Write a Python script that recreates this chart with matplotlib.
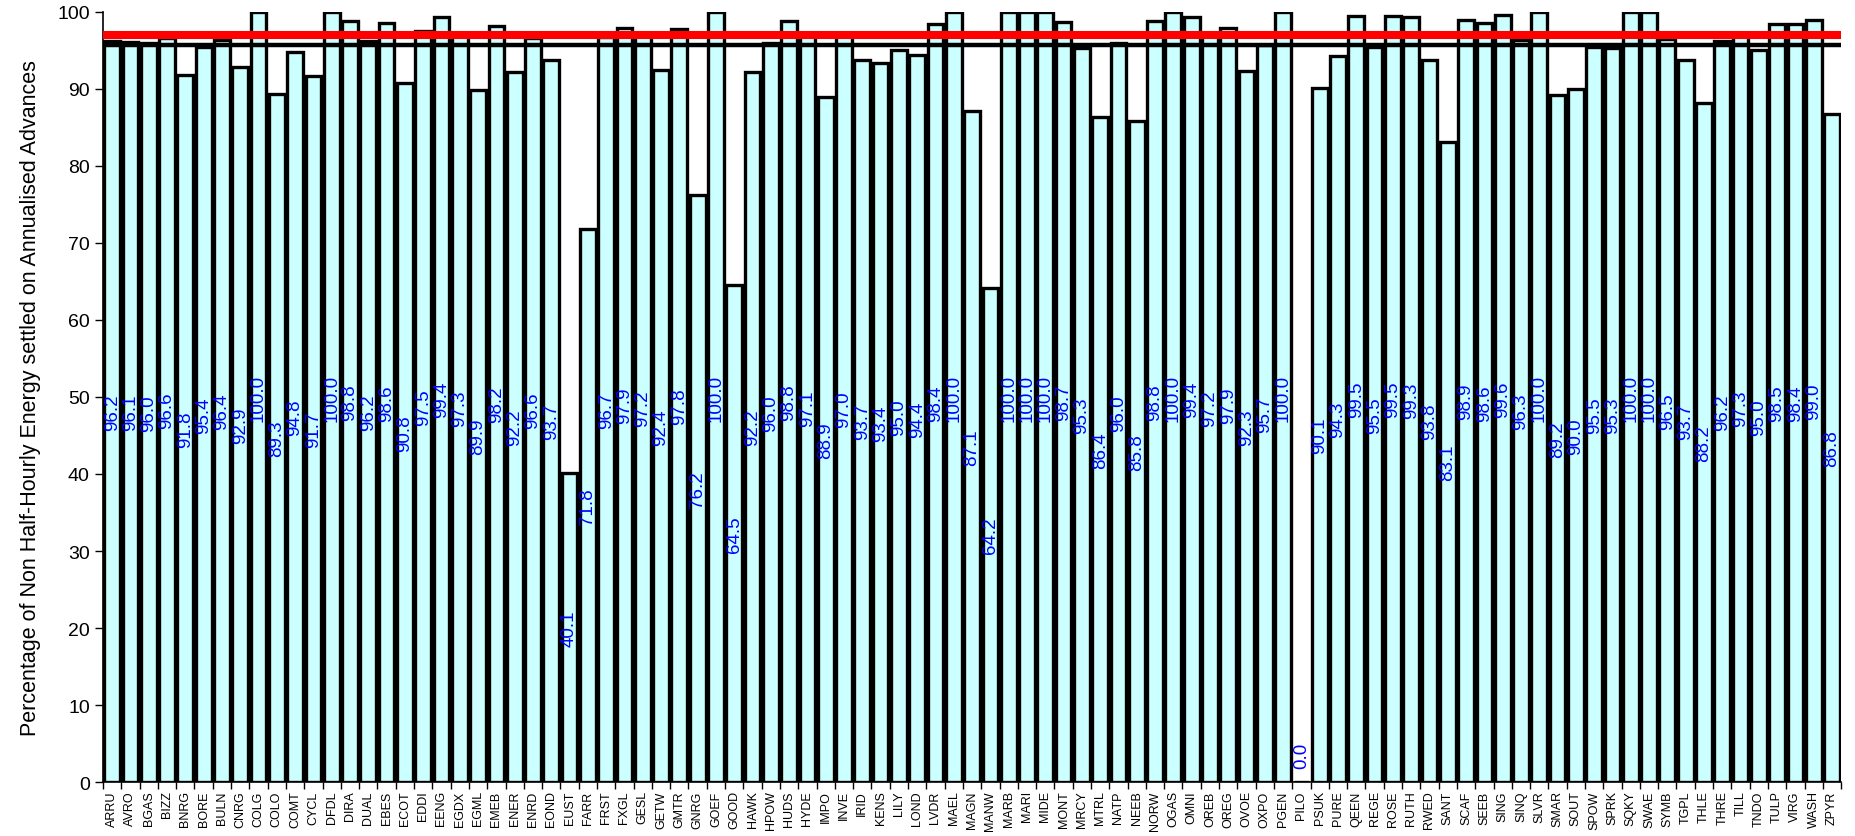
import matplotlib
matplotlib.use("Agg")
import matplotlib.pyplot as plt
import numpy as np

plt.rcParams['font.family'] = ['Liberation Sans', 'DejaVu Sans']

suppliers = ["ARRU","AVRO","BGAS","BIZZ","BNRG","BORE","BULN","CNRG","COLG","COLO",
             "COMT","CYCL","DFDL","DIRA","DUAL","EBES","ECOT","EDDI","EENG","EGDX",
             "EGML","EMEB","ENER","ENRD","EOND","EUST","FARR","FRST","FXGL","GESL",
             "GETW","GMTR","GNRG","GOEF","GOOD","HAWK","HPOW","HUDS","HYDE","IMPO",
             "INVE","IRID","KENS","LILY","LOND","LVDR","MAEL","MAGN","MANW","MARB",
             "MARI","MIDE","MONT","MRCY","MTRL","NATP","NEEB","NORW","OGAS","OMNI",
             "OREB","OREG","OVOE","OXPO","PGEN","PILO","PSUK","PURE","QEEN","REGE",
             "ROSE","RUTH","RWED","SANT","SCAF","SEEB","SING","SINQ","SLVR","SMAR",
             "SOUT","SPOW","SPRK","SQKY","SWAE","SYMB","TGPL","THLE","THRE","TILL",
             "TNDO","TULP","VIRG","WASH","ZPYR"]

percent_aa = [96.2, 96.1, 96.0, 96.6, 91.8, 95.4, 96.4, 92.9, 100.0, 89.3,
              94.8, 91.7, 100.0, 98.8, 96.2, 98.6, 90.8, 97.5, 99.4, 97.3,
              89.9, 98.2, 92.2, 96.6, 93.7, 40.1, 71.8, 96.7, 97.9, 97.2,
              92.4, 97.8, 76.2, 100.0, 64.5, 92.2, 96.0, 98.8, 97.1, 88.9,
              97.0, 93.7, 93.4, 95.0, 94.4, 98.4, 100.0, 87.1, 64.2, 100.0,
              100.0, 100.0, 98.7, 95.3, 86.4, 96.0, 85.8, 98.8, 100.0, 99.4,
              97.2, 97.9, 92.3, 95.7, 100.0, 0.0, 90.1, 94.3, 99.5, 95.5,
              99.5, 99.3, 93.8, 83.1, 98.9, 98.6, 99.6, 96.3, 100.0, 89.2,
              90.0, 95.5, 95.3, 100.0, 100.0, 96.5, 93.7, 88.2, 96.2, 97.3,
              95.0, 98.5, 98.4, 99.0, 86.8]

target_line = 97.0
average_line = 95.7

fig = plt.figure(figsize=(18.56, 8.37), dpi=100)
ax = fig.add_axes([0.0555, 0.0645, 0.9365, 0.92])

x = np.arange(len(suppliers))
ax.bar(x, percent_aa, width=0.86, color='#CCFFFF', edgecolor='black',
       linewidth=2.4, zorder=2)

for xi, v in zip(x, percent_aa):
    if v > 0:
        ax.text(xi, v / 2, f"{v:.1f}", rotation=90, ha='center', va='center',
                color='blue', fontsize=13.5, zorder=3)
    else:
        ax.annotate(f"{v:.1f}", (xi, v), xytext=(0, 14), textcoords='offset pixels',
                    rotation=90, ha='center', va='bottom', color='blue',
                    fontsize=13.5, zorder=3)

ax.axhline(average_line, color='black', linewidth=3.2, zorder=4)
ax.axhline(target_line, color='#FF0000', linewidth=5.8, zorder=5)

ax.set_xlim(-0.5, len(suppliers) - 0.5)
ax.set_ylim(0, 100)
ax.set_yticks(np.arange(0, 101, 10))
ax.tick_params(axis='y', labelsize=14, length=6, width=1, direction='out')
ax.set_xticks(x)
ax.set_xticklabels(suppliers, rotation=90, fontsize=9)
ax.tick_params(axis='x', which='major', length=0, pad=6)
ax.set_xticks(np.arange(-0.5, len(suppliers), 1), minor=True)
ax.tick_params(axis='x', which='minor', length=5, width=1, direction='out')

ax.spines['top'].set_visible(False)
ax.spines['right'].set_visible(False)
ax.spines['left'].set_linewidth(1.2)
ax.spines['bottom'].set_linewidth(1.2)

ax.set_ylabel("Percentage of Non Half-Hourly Energy settled on Annualised Advances",
              fontsize=15.5, labelpad=12)

fig.savefig("out.png", dpi=100)
